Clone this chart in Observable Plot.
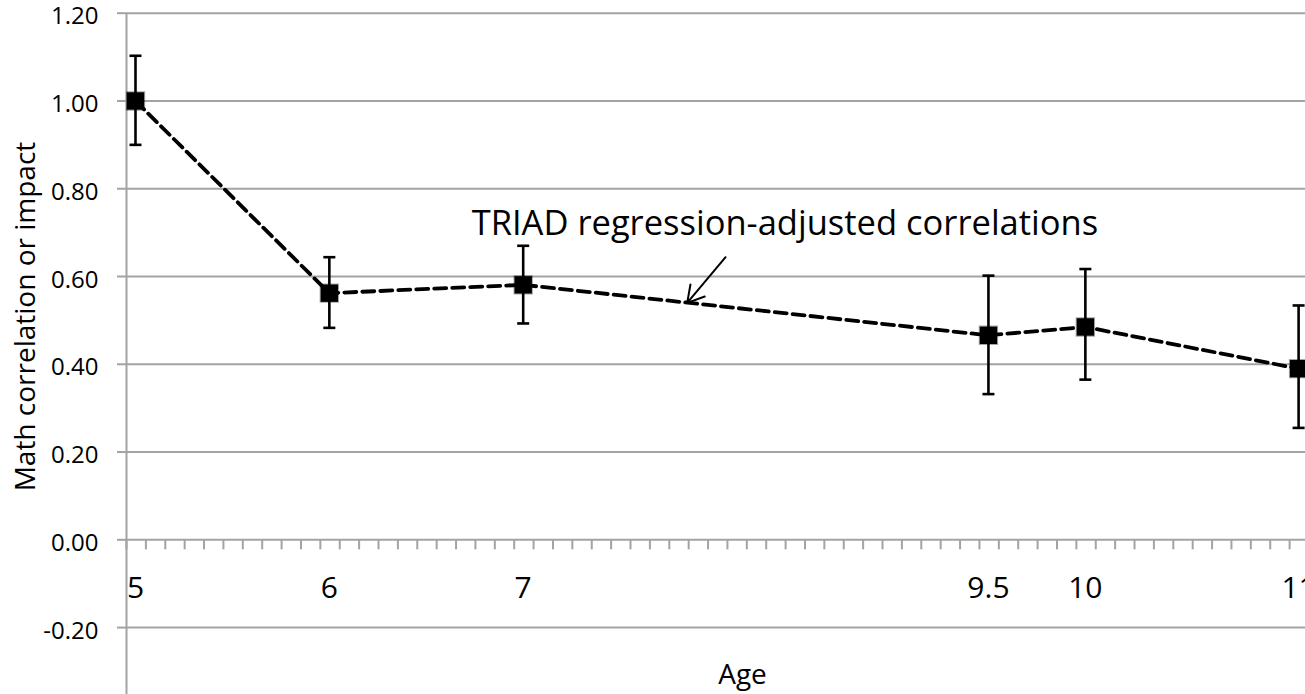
<!DOCTYPE html>
<html>
<head>
<meta charset="utf-8">
<script src="https://cdn.jsdelivr.net/npm/d3@7"></script>
<script src="https://cdn.jsdelivr.net/npm/@observablehq/plot@0.6"></script>
<style>
  html, body { margin: 0; padding: 0; background: #fff; }
</style>
</head>
<body>
<div id="chart"></div>
<script>
// ---- data ----
const ages      = [5, 6, 7, 9.4, 9.9, 11];
const ageLabels = ["5", "6", "7", "9.5", "10", "11"];
const corr      = [1.00, 0.562, 0.581, 0.466, 0.485, 0.390];
const lower     = [0.900, 0.483, 0.493, 0.332, 0.365, 0.255];
const upper     = [1.103, 0.644, 0.670, 0.602, 0.617, 0.534];
const yTicks    = [-0.2, 0, 0.2, 0.4, 0.6, 0.8, 1.0, 1.2];
const yTitle    = "Math correlation or impact";
const xTitle    = "Age";
const annotText = "TRIAD regression-adjusted correlations";
const annotPos  = {x: 8.35, y: 0.72};
const arrowSeg  = {x1: 8.044, y1: 0.644, x2: 7.846, y2: 0.540};

const data = ages.map((a, i) => ({age: a, label: ageLabels[i], corr: corr[i], lo: lower[i], hi: upper[i]}));

const W = 1305, H = 694, ML = 126;
const xDomain = [4.9536, 11.0356];
const yDomain = [-0.3525, 1.2];
// minor tick marks every 0.1 year starting at the axis
const minorTicks = d3.range(0, 62).map(k => xDomain[0] + k * 0.1);

const grid = "#a3a3a3";
const capSymbol = {
  draw(context, size) {
    const r = Math.sqrt(size / Math.PI);
    context.moveTo(-r, 0);
    context.lineTo(r, 0);
  }
};

const chart = Plot.plot({
  width: W,
  height: H,
  marginLeft: ML,
  marginRight: 0,
  marginTop: 12.7,
  marginBottom: 0,
  x: {domain: xDomain, axis: null},
  y: {domain: yDomain, axis: null},
  style: {fontFamily: "'Open Sans', sans-serif", fontSize: "24px", color: "#000", background: "#fff"},
  marks: [
    Plot.gridY(yTicks, {stroke: grid, strokeOpacity: 1, strokeWidth: 2}),
    Plot.tickY(yTicks, {y: d => d, stroke: grid, strokeWidth: 2, insetLeft: -9, insetRight: W - ML}),
    Plot.text(yTicks, {y: d => d, frameAnchor: "left", textAnchor: "end", dx: -28, dy: 3.5, text: d => d.toFixed(2), fontSize: 24, fill: "#000"}),
    Plot.ruleX([xDomain[0]], {stroke: grid, strokeWidth: 2}),
    Plot.ruleX(minorTicks, {x: d => d, y1: () => 0, y2: () => 0, insetBottom: -10, stroke: grid, strokeWidth: 2}),
    Plot.text(data, {x: "age", y: () => 0, text: "label", dy: 49, fontSize: 30, fill: "#000"}),
    Plot.ruleX(data, {x: "age", y1: "lo", y2: "hi", stroke: "#000", strokeWidth: 2.6}),
    Plot.dot(data, {x: "age", y: "lo", symbol: capSymbol, r: 6, stroke: "#000", strokeWidth: 2.6, fill: "none"}),
    Plot.dot(data, {x: "age", y: "hi", symbol: capSymbol, r: 6, stroke: "#000", strokeWidth: 2.6, fill: "none"}),
    Plot.line(data, {x: "age", y: "corr", stroke: "#000", strokeWidth: 3.8, strokeDasharray: "12,6"}),
    Plot.dot(data, {x: "age", y: "corr", symbol: "square", r: 9.8, fill: "#000", stroke: "#000", strokeOpacity: 0.35, strokeWidth: 2}),
    Plot.text([annotText], {x: () => annotPos.x, y: () => annotPos.y, text: d => d, fontSize: 34.5, fill: "#000"}),
    Plot.arrow([arrowSeg], {x1: "x1", y1: "y1", x2: "x2", y2: "y2", stroke: "#000", strokeWidth: 2, headLength: 14}),
    Plot.text([yTitle], {frameAnchor: "left", textAnchor: "middle", lineAnchor: "middle", text: d => d, rotate: -90, dx: -100, dy: -37.3, fontSize: 28, fill: "#000"}),
    Plot.text([xTitle], {frameAnchor: "bottom", textAnchor: "middle", lineAnchor: "middle", text: d => d, dx: 26.5, dy: -19.5, fontSize: 28, fill: "#000"})
  ]
});

document.getElementById("chart").appendChild(chart);
</script>
</body>
</html>
